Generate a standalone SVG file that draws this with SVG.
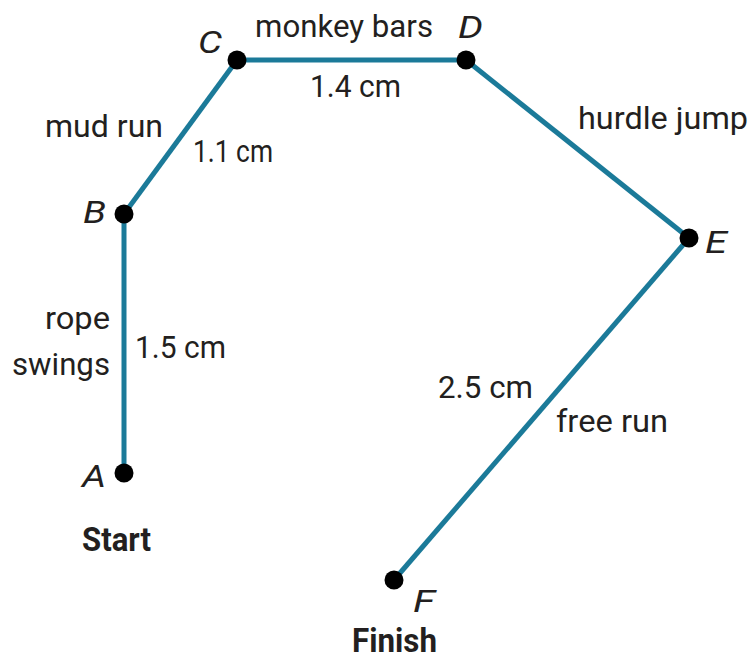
<svg xmlns="http://www.w3.org/2000/svg" width="751" height="659" viewBox="0 0 751 659">
<style>
.seg{stroke:#1b7a99;stroke-width:5;fill:none;stroke-linecap:butt;stroke-linejoin:miter}
.dot{fill:#000}
text{font-family:Roboto,"Liberation Sans",sans-serif;fill:#231f20;font-size:32px}
.pt{font-style:italic;font-size:32px}
.b{font-weight:bold;font-size:33px}
</style>
<rect width="751" height="659" fill="#fff"/>
<g id="connectors">
<line class="seg" x1="124" y1="473" x2="124" y2="214"/>
<line class="seg" x1="124" y1="214" x2="237" y2="60"/>
<line class="seg" x1="237" y1="60" x2="466" y2="60"/>
<line class="seg" x1="466" y1="60" x2="689" y2="238"/>
<line class="seg" x1="689" y1="238" x2="394" y2="580"/>
</g>
<g id="labels">
<text x="255" y="37" textLength="178" lengthAdjust="spacingAndGlyphs">monkey bars</text>
<text x="310" y="97" textLength="91" lengthAdjust="spacingAndGlyphs">1.4 cm</text>
<text x="578" y="129" textLength="170" lengthAdjust="spacingAndGlyphs">hurdle jump</text>
<text x="45" y="137" textLength="118" lengthAdjust="spacingAndGlyphs">mud run</text>
<text x="193" y="162" textLength="80" lengthAdjust="spacingAndGlyphs">1.1 cm</text>
<text x="45" y="329" textLength="65" lengthAdjust="spacingAndGlyphs">rope</text>
<text x="12" y="375" textLength="98" lengthAdjust="spacingAndGlyphs">swings</text>
<text x="135" y="358" textLength="91" lengthAdjust="spacingAndGlyphs">1.5 cm</text>
<text x="438" y="398" textLength="95" lengthAdjust="spacingAndGlyphs">2.5 cm</text>
<text x="556" y="432" textLength="112" lengthAdjust="spacingAndGlyphs">free run</text>
</g>
<g id="node-A"><circle class="dot" cx="124" cy="473" r="9.5"/><text class="pt" x="82" y="487" textLength="24" lengthAdjust="spacingAndGlyphs">A</text><text class="b" x="82" y="551" textLength="69" lengthAdjust="spacingAndGlyphs">Start</text></g>
<g id="node-B"><circle class="dot" cx="124" cy="214" r="9.5"/><text class="pt" x="83" y="223" textLength="23" lengthAdjust="spacingAndGlyphs">B</text></g>
<g id="node-C"><circle class="dot" cx="237" cy="60" r="9.5"/><text class="pt" x="198" y="53" textLength="24" lengthAdjust="spacingAndGlyphs">C</text></g>
<g id="node-D"><circle class="dot" cx="466" cy="60" r="9.5"/><text class="pt" x="458" y="38" textLength="25" lengthAdjust="spacingAndGlyphs">D</text></g>
<g id="node-E"><circle class="dot" cx="689" cy="238" r="9.5"/><text class="pt" x="705" y="253" textLength="22" lengthAdjust="spacingAndGlyphs">E</text></g>
<g id="node-F"><circle class="dot" cx="394" cy="580" r="9.5"/><text class="pt" x="413" y="612" textLength="22" lengthAdjust="spacingAndGlyphs">F</text><text class="b" x="352" y="652" textLength="85" lengthAdjust="spacingAndGlyphs">Finish</text></g>
</svg>
